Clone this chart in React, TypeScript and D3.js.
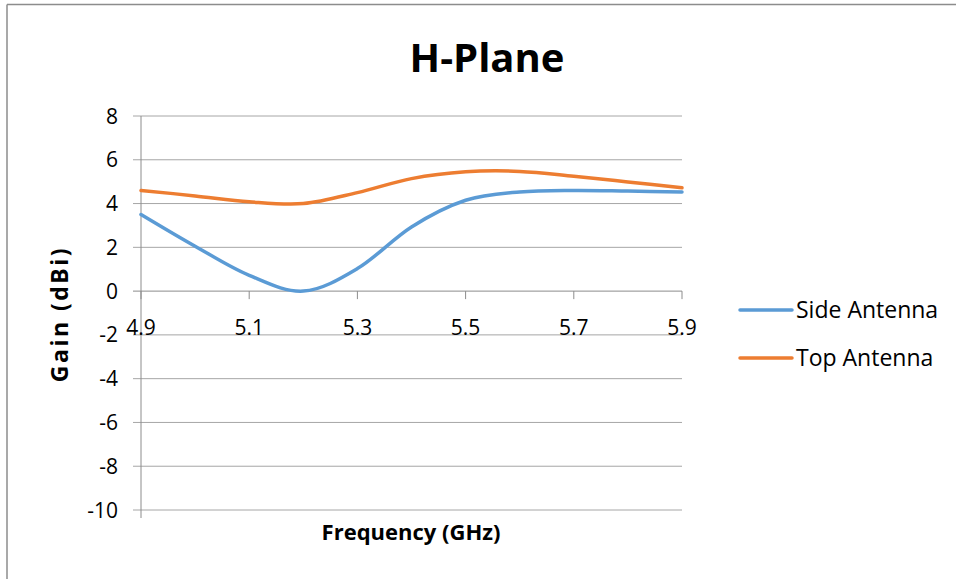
import React from "react";
import * as d3 from "d3";

const frequencies = [4.9, 5.0, 5.1, 5.2, 5.3, 5.4, 5.5, 5.6, 5.7, 5.8, 5.9];
const sideAntenna = [3.5, 2.05, 0.72, 0.0, 1.03, 2.93, 4.15, 4.53, 4.6, 4.57, 4.53];
const topAntenna = [4.6, 4.35, 4.08, 4.0, 4.5, 5.14, 5.45, 5.47, 5.25, 4.99, 4.72];
const seriesNames = ["Side Antenna", "Top Antenna"];
const seriesColors = ["#5B9BD5", "#ED7D31"];
const xTicks = [4.9, 5.1, 5.3, 5.5, 5.7, 5.9];
const yTicks = [-10, -8, -6, -4, -2, 0, 2, 4, 6, 8];

const W = 956;
const H = 579;
const FONT = "'Open Sans', 'Noto Sans', sans-serif";

export default function App() {
  const x = d3.scaleLinear().domain([4.9, 5.9]).range([141, 682]);
  const y = d3.scaleLinear().domain([-10, 8]).range([510, 116]);
  const line = d3
    .line<number>()
    .x((_, i) => x(frequencies[i]))
    .y((d) => y(d))
    .curve(d3.curveCatmullRom.alpha(0));
  const series = [sideAntenna, topAntenna];

  return (
    <svg
      width={W}
      height={H}
      style={{ position: "absolute", left: 0, top: 0, background: "#fff" }}
      fontFamily={FONT}
    >
      <rect x={0} y={0} width={W} height={H} fill="#fff" />
      {/* frame */}
      <line x1={7} y1={4.5} x2={W} y2={4.5} stroke="#8c8c8c" strokeWidth={1.5} />
      <line x1={7} y1={4.5} x2={7} y2={H} stroke="#8c8c8c" strokeWidth={1.5} />

      {/* title */}
      <text x={487} y={72} textAnchor="middle" fontSize={40} fontWeight="bold" fill="#000">
        H-Plane
      </text>

      {/* gridlines + y ticks */}
      {yTicks.map((t) => (
        <g key={t}>
          <line x1={133} x2={682} y1={y(t)} y2={y(t)} stroke={t === 0 ? "#8c8c8c" : "#a6a6a6"} strokeWidth={1} />
          <text x={118} y={y(t)} dy="0.36em" textAnchor="end" fontSize={21} fill="#000">
            {t}
          </text>
        </g>
      ))}
      {/* y axis line */}
      <line x1={141} x2={141} y1={116} y2={518} stroke="#8c8c8c" strokeWidth={1} />

      {/* x ticks at zero line */}
      {xTicks.map((t) => (
        <g key={t}>
          <line x1={x(t)} x2={x(t)} y1={y(0)} y2={y(0) + 8} stroke="#8c8c8c" strokeWidth={1} />
          <text x={x(t)} y={y(0) + 44} textAnchor="middle" fontSize={21} fill="#000">
            {t.toFixed(1)}
          </text>
        </g>
      ))}

      {/* series */}
      {series.map((s, i) => (
        <path
          key={i}
          d={line(s) || ""}
          fill="none"
          stroke={seriesColors[i]}
          strokeWidth={3.5}
          strokeLinecap="round"
          strokeLinejoin="round"
        />
      ))}

      {/* axis titles */}
      <text
        transform={`translate(68,314) rotate(-90)`}
        textAnchor="middle"
        fontSize={23}
        fontWeight="bold"
        letterSpacing={2.5}
        fill="#000"
      >
        Gain (dBi)
      </text>
      <text x={411} y={540} textAnchor="middle" fontSize={22} fontWeight="bold" fill="#000">
        Frequency (GHz)
      </text>

      {/* legend */}
      {seriesNames.map((n, i) => (
        <g key={n}>
          <line
            x1={740}
            x2={792}
            y1={310 + i * 48}
            y2={310 + i * 48}
            stroke={seriesColors[i]}
            strokeWidth={3.5}
            strokeLinecap="round"
          />
          <text x={796} y={310 + i * 48} dy="0.36em" fontSize={23} fill="#000">
            {n}
          </text>
        </g>
      ))}
    </svg>
  );
}
